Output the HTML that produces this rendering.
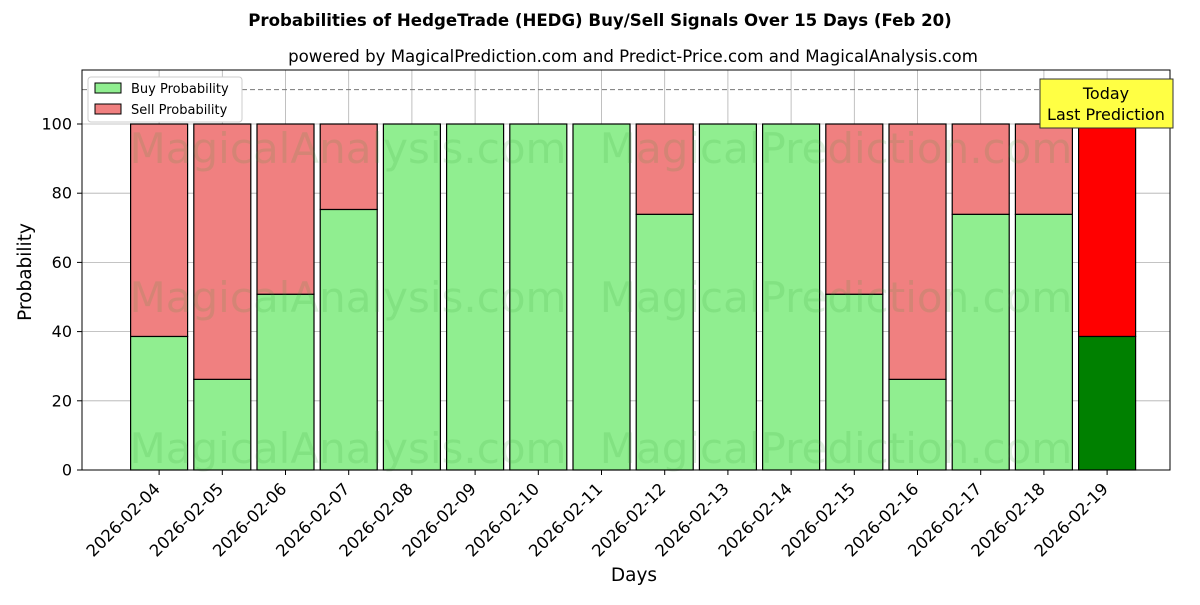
<!DOCTYPE html>
<html><head><meta charset="utf-8"><style>
body{margin:0;background:#fff;}
svg text{font-family:"DejaVu Sans","Liberation Sans",sans-serif;}
</style></head><body>
<svg id="c" width="1200" height="600" xmlns="http://www.w3.org/2000/svg">
<rect width="1200" height="600" fill="#fff"/>
<text x="600" y="26" text-anchor="middle" font-size="16.6" font-weight="bold">Probabilities of HedgeTrade (HEDG) Buy/Sell Signals Over 15 Days (Feb 20)</text>
<text x="633" y="62" text-anchor="middle" font-size="16.6">powered by MagicalPrediction.com and Predict-Price.com and MagicalAnalysis.com</text>
<g id="grid"></g>
<g id="bars"></g>
<g id="wm" fill="#3aa03a" opacity="0.15" font-size="42">
<text x="348" y="163" text-anchor="middle">MagicalAnalysis.com</text>
<text x="836" y="163" text-anchor="middle">MagicalPrediction.com</text>
<text x="348" y="312" text-anchor="middle">MagicalAnalysis.com</text>
<text x="836" y="312" text-anchor="middle">MagicalPrediction.com</text>
<text x="348" y="463" text-anchor="middle">MagicalAnalysis.com</text>
<text x="836" y="463" text-anchor="middle">MagicalPrediction.com</text>
</g>
<line x1="82" x2="1170" y1="89.6" y2="89.6" stroke="#777" stroke-dasharray="5,3"/>
<rect x="82" y="70" width="1088" height="400" fill="none" stroke="#000"/>
<g id="ticks"></g>
<text x="634" y="581" text-anchor="middle" font-size="18.5">Days</text>
<text transform="translate(31,272) rotate(-90)" text-anchor="middle" font-size="18.5">Probability</text>
<g>
<rect x="88" y="77" width="154" height="45" fill="#fff" stroke="#ccc" rx="3"/>
<rect x="95" y="83" width="26" height="10" fill="#90ee90" stroke="#000"/>
<text x="131" y="93" font-size="13">Buy Probability</text>
<rect x="95" y="104" width="26" height="10" fill="#f08080" stroke="#000"/>
<text x="131" y="114" font-size="13">Sell Probability</text>
</g>
<g>
<rect x="1040" y="79" width="133" height="49" fill="#ffff44" stroke="#333"/>
<text x="1106" y="99" text-anchor="middle" font-size="16">Today</text>
<text x="1106" y="120" text-anchor="middle" font-size="16">Last Prediction</text>
</g>
</svg>
<script>
const categories=["2026-02-04","2026-02-05","2026-02-06","2026-02-07","2026-02-08","2026-02-09","2026-02-10","2026-02-11","2026-02-12","2026-02-13","2026-02-14","2026-02-15","2026-02-16","2026-02-17","2026-02-18","2026-02-19"];
const buyValues=[38.6,26.2,50.8,75.3,100,100,100,100,73.9,100,100,50.8,26.2,73.9,73.9,38.6];
const sellValues=[61.4,73.8,49.2,24.7,0,0,0,0,26.1,0,0,49.2,73.8,26.1,26.1,61.4];
const yTicks=[0,20,40,60,80,100];
const NS="http://www.w3.org/2000/svg";
const x=i=>82+(i+1.22)*63.2;
const y=v=>470-v*3.46;
const bw=57;
function mk(t,a,p){const e=document.createElementNS(NS,t);for(const k in a)e.setAttribute(k,a[k]);p.appendChild(e);return e;}
const grid=document.getElementById('grid'),bars=document.getElementById('bars'),ticks=document.getElementById('ticks');
yTicks.forEach(v=>{
 const g=mk('line',{x1:82,x2:1170,y1:y(v),y2:y(v),stroke:'#b0b0b0','stroke-width':0.8},grid);
 
 
 mk('line',{x1:77,x2:82,y1:y(v),y2:y(v),stroke:'#000'},ticks);
 const t=mk('text',{x:72,y:y(v)+5.5,'text-anchor':'end','font-size':16},ticks);t.textContent=v;
 
 
});
categories.forEach((c,i)=>{
 const cx=x(i);
 const g=mk('line',{x1:cx,x2:cx,y1:70,y2:470,stroke:'#b0b0b0','stroke-width':0.8},grid);
 
 
 const last=i===categories.length-1;
 const b=mk('rect',{x:cx-bw/2,y:y(buyValues[i]),width:bw,height:y(0)-y(buyValues[i]),fill:last?'#008000':'#90ee90',stroke:'#000','stroke-width':1.2},bars);
 
 
 if(sellValues[i]>0){
  const s=mk('rect',{x:cx-bw/2,y:y(buyValues[i]+sellValues[i]),width:bw,height:y(buyValues[i])-y(buyValues[i]+sellValues[i]),fill:last?'#ff0000':'#f08080',stroke:'#000','stroke-width':1.2},bars);
  
  
 }
 mk('line',{x1:cx,x2:cx,y1:470,y2:475,stroke:'#000'},ticks);
 const t=mk('text',{transform:`translate(${cx+2},${490}) rotate(-45)`,'text-anchor':'end','font-size':16.5},ticks);t.textContent=c;
 
 
});
</script>
</body></html>
